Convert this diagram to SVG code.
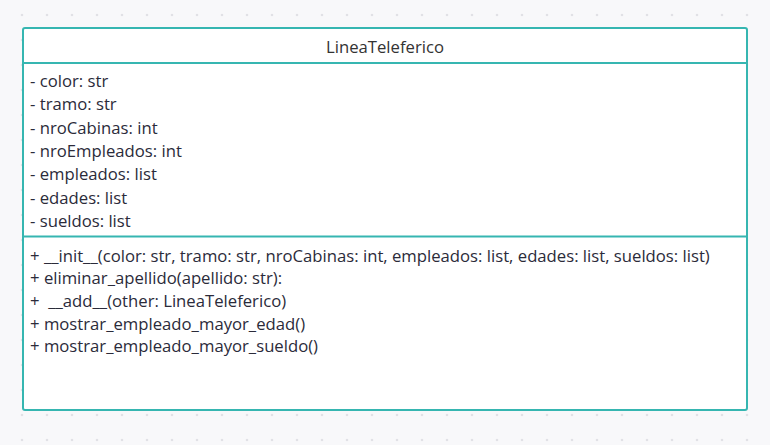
<svg xmlns="http://www.w3.org/2000/svg" width="770" height="445" viewBox="0 0 770 445">
<defs>
<pattern id="dots" x="0" y="0" width="25" height="25" patternUnits="userSpaceOnUse">
<circle cx="22" cy="15" r="1.3" fill="#e1e1e6"/>
</pattern>
</defs>
<style>
.t{font-family:"Open Sans","Noto Sans","Liberation Sans",sans-serif;font-size:16.7px;fill:#2b2b3a}
.title{font-family:"Open Sans","Noto Sans","Liberation Sans",sans-serif;font-size:16.7px;fill:#333333}
.box{fill:#ffffff;stroke:#36b6b1;stroke-width:2}
.div{stroke:#36b6b1;stroke-width:2}
</style>
<rect width="770" height="445" fill="#f8f8fa"/>
<rect width="770" height="445" fill="url(#dots)"/>
<g id="LineaTeleferico">
<rect class="box" x="23" y="28" width="724" height="382" rx="2"/>
<line class="div" x1="23" y1="63" x2="747" y2="63"/>
<line class="div" x1="23" y1="236.5" x2="747" y2="236.5"/>
<text class="title" x="385" y="53" text-anchor="middle">LineaTeleferico</text>
<text class="t" x="30" y="87">- color: str</text>
<text class="t" x="30" y="110.3">- tramo: str</text>
<text class="t" x="30" y="133.6">- nroCabinas: int</text>
<text class="t" x="30" y="157">- nroEmpleados: int</text>
<text class="t" x="30" y="180.2">- empleados: list</text>
<text class="t" x="30" y="203.5">- edades: list</text>
<text class="t" x="30" y="226.8">- sueldos: list</text>
<text class="t" x="30" y="261.5">+ __init__(color: str, tramo: str, nroCabinas: int, empleados: list, edades: list, sueldos: list)</text>
<text class="t" x="30" y="284.2">+ eliminar_apellido(apellido: str):</text>
<text class="t" x="30" y="306.9" xml:space="preserve">+  __add__(other: LineaTeleferico)</text>
<text class="t" x="30" y="329.6">+ mostrar_empleado_mayor_edad()</text>
<text class="t" x="30" y="352.3">+ mostrar_empleado_mayor_sueldo()</text>
</g>
<g id="connectors"/>
</svg>
